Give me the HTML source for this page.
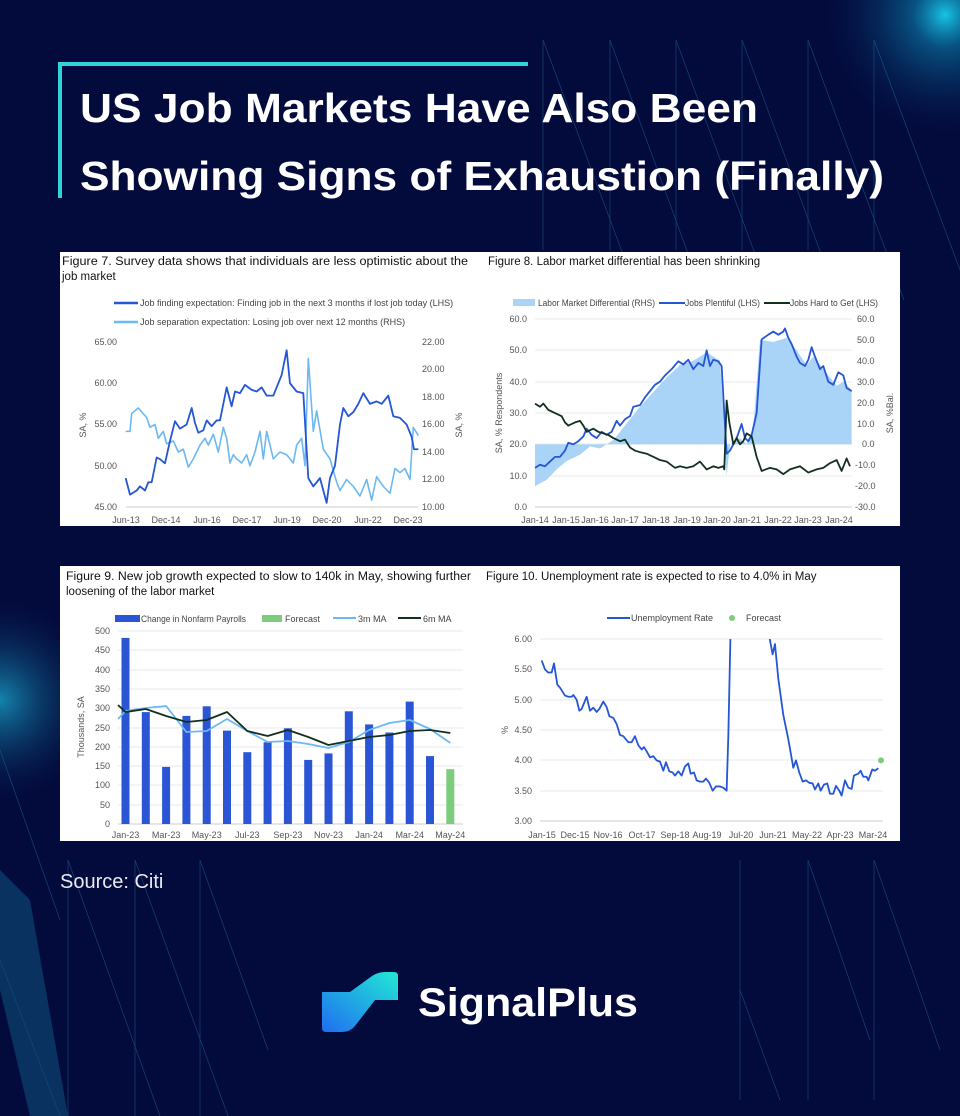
<!DOCTYPE html>
<html><head><meta charset="utf-8"><style>
html,body{margin:0;padding:0;background:#030a3c;}
svg{display:block;font-family:"Liberation Sans",sans-serif;}
.t{font-size:11.5px;fill:#111;}
.k{font-size:9px;fill:#555;}
.lg{font-size:9px;fill:#444;}
</style></head><body>
<svg width="960" height="1116" viewBox="0 0 960 1116" xmlns="http://www.w3.org/2000/svg">
<defs>
<radialGradient id="glow1" cx="945" cy="15" r="130" gradientUnits="userSpaceOnUse">
<stop offset="0" stop-color="#19c3e6"/><stop offset="0.25" stop-color="#0a6f9e" stop-opacity="0.7"/><stop offset="1" stop-color="#030a3c" stop-opacity="0"/></radialGradient>
<radialGradient id="glow2" cx="0" cy="700" r="110" gradientUnits="userSpaceOnUse">
<stop offset="0" stop-color="#1aa3c9" stop-opacity="0.8"/><stop offset="1" stop-color="#030a3c" stop-opacity="0"/></radialGradient>
<linearGradient id="logo" x1="0" y1="1" x2="1" y2="0"><stop offset="0" stop-color="#1f6ff0"/><stop offset="1" stop-color="#22e8d6"/></linearGradient>
<clipPath id="c10"><rect x="540" y="639" width="345" height="183"/></clipPath>
</defs>
<rect width="960" height="1116" fill="#030a3c"/>
<rect width="960" height="1116" fill="url(#glow1)"/>
<rect width="960" height="1116" fill="url(#glow2)"/>
<g stroke="#1a6f9a" stroke-width="0.7" opacity="0.6" fill="none">
<line x1="543" y1="40" x2="640" y2="300"/><line x1="610" y1="40" x2="705" y2="300"/>
<line x1="676" y1="40" x2="772" y2="300"/><line x1="742" y1="40" x2="838" y2="300"/>
<line x1="808" y1="40" x2="904" y2="300"/><line x1="874" y1="40" x2="960" y2="270"/>
<line x1="543" y1="40" x2="543" y2="250"/><line x1="610" y1="40" x2="610" y2="250"/><line x1="676" y1="40" x2="676" y2="250"/><line x1="742" y1="40" x2="742" y2="250"/><line x1="808" y1="40" x2="808" y2="250"/><line x1="874" y1="40" x2="874" y2="250"/>
<line x1="0" y1="750" x2="60" y2="920"/><line x1="0" y1="960" x2="60" y2="1116"/>
<line x1="68" y1="860" x2="68" y2="1116"/><line x1="135" y1="860" x2="135" y2="1116"/><line x1="200" y1="860" x2="200" y2="1116"/>
<line x1="68" y1="860" x2="160" y2="1116"/><line x1="135" y1="860" x2="228" y2="1116"/><line x1="200" y1="860" x2="268" y2="1050"/>
<line x1="740" y1="860" x2="740" y2="1100"/><line x1="808" y1="860" x2="808" y2="1100"/><line x1="874" y1="860" x2="874" y2="1100"/>
<line x1="740" y1="990" x2="780" y2="1100"/><line x1="808" y1="860" x2="870" y2="1040"/><line x1="874" y1="860" x2="940" y2="1050"/>
</g>
<polygon points="0,870 30,900 68,1116 30,1116 0,990" fill="#0e4d78" opacity="0.6"/>
<!-- title -->
<rect x="58" y="62" width="470" height="4" fill="#2fd3d8"/>
<rect x="58" y="62" width="4" height="136" fill="#2fd3d8"/>
<text x="80" y="122" font-size="41" font-weight="bold" fill="#fff" textLength="678" lengthAdjust="spacingAndGlyphs">US Job Markets Have Also Been</text>
<text x="80" y="190" font-size="41" font-weight="bold" fill="#fff" textLength="804" lengthAdjust="spacingAndGlyphs">Showing Signs of Exhaustion (Finally)</text>

<!-- panels -->
<rect x="60" y="252" width="840" height="274" fill="#fff"/>
<rect x="60" y="566" width="840" height="275" fill="#fff"/>

<!-- FIG 7 -->
<text class="t" x="62" y="265" textLength="406" lengthAdjust="spacingAndGlyphs">Figure 7. Survey data shows that individuals are less optimistic about the</text>
<text class="t" x="62" y="280">job market</text>
<line x1="114" y1="303" x2="138" y2="303" stroke="#2456d6" stroke-width="2.5"/>
<text class="lg" x="140" y="306">Job finding expectation: Finding job in the next 3 months if lost job today (LHS)</text>
<line x1="114" y1="322" x2="138" y2="322" stroke="#6cb8f2" stroke-width="2.5"/>
<text class="lg" x="140" y="325">Job separation expectation: Losing job over next 12 months (RHS)</text>
<g text-anchor="end">
<text x="117" y="345" class="k">65.00</text><text x="117" y="386" class="k">60.00</text><text x="117" y="427" class="k">55.00</text><text x="117" y="469" class="k">50.00</text><text x="117" y="510" class="k">45.00</text>
</g>
<g>
<text x="422" y="345" class="k">22.00</text><text x="422" y="372" class="k">20.00</text><text x="422" y="400" class="k">18.00</text><text x="422" y="427" class="k">16.00</text><text x="422" y="455" class="k">14.00</text><text x="422" y="482" class="k">12.00</text><text x="422" y="510" class="k">10.00</text>
</g>
<text class="k" transform="translate(86,425) rotate(-90)" text-anchor="middle">SA, %</text>
<text class="k" transform="translate(462,425) rotate(-90)" text-anchor="middle">SA, %</text>
<line x1="126" y1="507" x2="418" y2="507" stroke="#bbb" stroke-width="0.8"/>
<g text-anchor="middle">
<text x="126" y="523" class="k">Jun-13</text><text x="166" y="523" class="k">Dec-14</text><text x="207" y="523" class="k">Jun-16</text><text x="247" y="523" class="k">Dec-17</text><text x="287" y="523" class="k">Jun-19</text><text x="327" y="523" class="k">Dec-20</text><text x="368" y="523" class="k">Jun-22</text><text x="408" y="523" class="k">Dec-23</text>
</g>
<g transform="matrix(0.3333,0,0,-13.75,60,644.5)">
<polyline fill="none" stroke="#6cb8f2" stroke-width="1.6" vector-effect="non-scaling-stroke" stroke-linejoin="round" points="197,15.5 210,15.5 215,16.8 235,17.2 260,16.5 270,15.8 285,16 295,15 310,15.5 320,14.6 340,14.8 355,14.0 370,14.2 385,12.9 400,13.5 420,14.5 435,15.0 445,14.5 460,15.3 475,14.0 490,15.8 500,15.0 510,13.2 520,13.8 530,13.5 545,13.2 560,13.8 570,13.0 585,14 600,15.5 610,13.5 620,15.5 640,13.5 660,14.0 680,13.8 700,13.2 710,14.5 725,15 735,13 745,20.8 760,15.5 770,17 790,14.2 810,13.5 830,11.8 840,11.2 860,12.0 880,11.5 900,10.8 920,12.0 935,10.5 950,12.2 970,11.5 990,11.0 1005,12.8 1020,12.5 1035,12.8 1050,12.0 1060,15.8 1075,15.2"/>
</g>
<g transform="matrix(0.3333,0,0,-8.25,60,878.25)">
<polyline fill="none" stroke="#2456d6" stroke-width="1.8" vector-effect="non-scaling-stroke" stroke-linejoin="round" points="197,48.5 210,46.5 230,47 240,47.5 255,47 265,48 275,48 290,51 300,50.8 315,50.3 330,53 345,55.4 360,54.5 380,55 395,57 405,55.2 415,54 430,54.3 440,55.5 455,54.8 470,55.5 480,55.5 500,59.5 515,57.2 525,59 540,58.8 555,59.8 575,59.2 590,59 605,59.5 620,58.5 640,58.5 665,61 680,64 690,60 710,59 730,58.8 745,48.5 760,47.5 780,48.5 790,47 800,45.5 810,48.5 825,50 840,55 850,57 865,56 880,56.5 895,57.5 910,58.8 930,57.5 950,57.8 965,57.5 985,58.5 1000,56 1020,55.8 1040,55 1055,53.5 1062,52 1075,52"/>
</g>

<!-- FIG 8 -->
<text class="t" x="488" y="265">Figure 8. Labor market differential has been shrinking</text>
<rect x="513" y="299" width="22" height="7" fill="#a9d3f7"/>
<text class="lg" x="538" y="306" textLength="117" lengthAdjust="spacingAndGlyphs">Labor Market Differential (RHS)</text>
<line x1="659" y1="303" x2="685" y2="303" stroke="#2456d6" stroke-width="2"/>
<text class="lg" x="685" y="306" textLength="75" lengthAdjust="spacingAndGlyphs">Jobs Plentiful (LHS)</text>
<line x1="764" y1="303" x2="790" y2="303" stroke="#13301f" stroke-width="2"/>
<text class="lg" x="790" y="306" textLength="88" lengthAdjust="spacingAndGlyphs">Jobs Hard to Get (LHS)</text>
<g stroke="#e2e2e2" stroke-width="0.7">
<line x1="535" y1="319" x2="852" y2="319"/><line x1="535" y1="350" x2="852" y2="350"/><line x1="535" y1="382" x2="852" y2="382"/><line x1="535" y1="413" x2="852" y2="413"/><line x1="535" y1="444" x2="852" y2="444"/><line x1="535" y1="476" x2="852" y2="476"/>
</g>
<line x1="535" y1="507" x2="852" y2="507" stroke="#bbb" stroke-width="0.8"/>
<g text-anchor="end">
<text x="527" y="322" class="k">60.0</text><text x="527" y="353" class="k">50.0</text><text x="527" y="385" class="k">40.0</text><text x="527" y="416" class="k">30.0</text><text x="527" y="447" class="k">20.0</text><text x="527" y="479" class="k">10.0</text><text x="527" y="510" class="k">0.0</text>
</g>
<g>
<text x="857" y="322" class="k">60.0</text><text x="857" y="343" class="k">50.0</text><text x="857" y="364" class="k">40.0</text><text x="857" y="385" class="k">30.0</text><text x="857" y="406" class="k">20.0</text><text x="857" y="427" class="k">10.0</text><text x="862" y="447" class="k">0.0</text><text x="855" y="468" class="k">-10.0</text><text x="855" y="489" class="k">-20.0</text><text x="855" y="510" class="k">-30.0</text>
</g>
<text class="k" transform="translate(502,413) rotate(-90)" text-anchor="middle">SA, % Respondents</text>
<text class="k" transform="translate(893,413) rotate(-90)" text-anchor="middle">SA, %Bal.</text>
<g text-anchor="middle">
<text x="535" y="523" class="k">Jan-14</text><text x="566" y="523" class="k">Jan-15</text><text x="595" y="523" class="k">Jan-16</text><text x="625" y="523" class="k">Jan-17</text><text x="656" y="523" class="k">Jan-18</text><text x="687" y="523" class="k">Jan-19</text><text x="717" y="523" class="k">Jan-20</text><text x="747" y="523" class="k">Jan-21</text><text x="778" y="523" class="k">Jan-22</text><text x="808" y="523" class="k">Jan-23</text><text x="839" y="523" class="k">Jan-24</text>
</g>
<g transform="matrix(0.3333,0,0,-2.089,480,444.33)">
<polygon fill="#a9d3f7" points="165,0 165,-20 200,-17 230,-12 260,-8 300,-5 330,-1 360,-2 400,2 440,10 480,18 520,25 560,32 600,38 640,40 680,44 720,40 730,15 740,-15 750,0 780,3 800,0 820,8 840,50 880,49 920,51 950,45 980,38 1000,42 1040,34 1070,28 1090,30 1115,26 1115,0"/>
</g>
<g transform="matrix(0.3333,0,0,-3.133,480,507)">
<polyline fill="none" stroke="#2456d6" stroke-width="1.8" vector-effect="non-scaling-stroke" stroke-linejoin="round" points="165,12.5 180,13.5 195,13 210,14.5 225,16 240,16 255,18 265,20.5 280,20 295,21 310,22.5 320,25 335,23 350,22 365,24 380,23 395,24 410,27.5 420,26 435,28 450,29 460,32 480,32.5 495,35 510,37 525,39 540,40 555,42 575,44 595,46.5 610,45.5 625,47 640,44 655,46 670,45 680,50 690,45 700,47 715,46.5 725,45 735,26 740,17 750,18 760,20 770,22 785,26.5 795,22 805,21 815,23 830,30 845,53.5 865,55 880,56 895,55 910,56 915,57 925,54 935,52 950,48 960,46 975,45 985,47 995,51 1005,48 1020,44 1030,45 1045,40 1060,39 1075,43 1090,42 1100,38 1115,37"/>
<polyline fill="none" stroke="#13301f" stroke-width="1.8" vector-effect="non-scaling-stroke" stroke-linejoin="round" points="165,33 180,32 190,33 205,31 225,30 245,29 255,27 265,26 285,27 300,27.5 310,26 320,24 340,25 355,24 370,23.5 385,23 400,22 420,21 435,21.5 450,19 465,18 480,17.5 500,17 520,16 540,15 560,14.5 585,12.5 600,13 620,12.5 640,13 660,14.5 680,12 700,13 715,12.5 730,13 733,12 740,34 748,27 760,20 770,22 780,20 790,21 800,23.5 815,22.5 830,16 845,11.5 870,12.5 890,12 910,10.5 930,12 960,13 985,11 1010,12 1030,12.5 1050,14 1070,15 1085,11.5 1100,15.5 1110,13"/>
</g>

<!-- FIG 9 -->
<text class="t" x="66" y="580" textLength="405" lengthAdjust="spacingAndGlyphs">Figure 9. New job growth expected to slow to 140k in May, showing further</text>
<text class="t" x="66" y="595">loosening of the labor market</text>
<rect x="115" y="615" width="25" height="7" fill="#2a56d6"/>
<text class="lg" x="141" y="622" textLength="105" lengthAdjust="spacingAndGlyphs">Change in Nonfarm Payrolls</text>
<rect x="262" y="615" width="20" height="7" fill="#7dcc7d"/>
<text class="lg" x="285" y="622">Forecast</text>
<line x1="333" y1="618" x2="356" y2="618" stroke="#6cb8f2" stroke-width="2"/>
<text class="lg" x="358" y="622">3m MA</text>
<line x1="398" y1="618" x2="421" y2="618" stroke="#13301f" stroke-width="2"/>
<text class="lg" x="423" y="622">6m MA</text>
<g stroke="#e2e2e2" stroke-width="0.7">
<line x1="118" y1="631" x2="463" y2="631"/><line x1="118" y1="650" x2="463" y2="650"/><line x1="118" y1="670" x2="463" y2="670"/><line x1="118" y1="689" x2="463" y2="689"/><line x1="118" y1="708" x2="463" y2="708"/><line x1="118" y1="728" x2="463" y2="728"/><line x1="118" y1="747" x2="463" y2="747"/><line x1="118" y1="766" x2="463" y2="766"/><line x1="118" y1="785" x2="463" y2="785"/><line x1="118" y1="805" x2="463" y2="805"/>
</g>
<line x1="118" y1="824" x2="463" y2="824" stroke="#bbb" stroke-width="0.8"/>
<g text-anchor="end">
<text x="110" y="634" class="k">500</text><text x="110" y="653" class="k">450</text><text x="110" y="673" class="k">400</text><text x="110" y="692" class="k">350</text><text x="110" y="711" class="k">300</text><text x="110" y="731" class="k">250</text><text x="110" y="750" class="k">200</text><text x="110" y="769" class="k">150</text><text x="110" y="788" class="k">100</text><text x="110" y="808" class="k">50</text><text x="110" y="827" class="k">0</text>
</g>
<text class="k" transform="translate(84,727) rotate(-90)" text-anchor="middle">Thousands, SA</text>
<g fill="#2a56d6">
<rect x="121.5" y="637.9" width="8" height="186.1"/><rect x="141.8" y="712.1" width="8" height="111.9"/><rect x="162.1" y="766.9" width="8" height="57.1"/><rect x="182.4" y="715.9" width="8" height="108.1"/><rect x="202.7" y="706.3" width="8" height="117.7"/><rect x="223" y="730.6" width="8" height="93.4"/><rect x="243.3" y="752.2" width="8" height="71.8"/><rect x="263.6" y="742.2" width="8" height="81.8"/><rect x="283.9" y="728.3" width="8" height="95.7"/><rect x="304.2" y="759.9" width="8" height="64.1"/><rect x="324.5" y="753.4" width="8" height="70.6"/><rect x="344.8" y="711.3" width="8" height="112.7"/><rect x="365.1" y="724.4" width="8" height="99.6"/><rect x="385.4" y="732.5" width="8" height="91.5"/><rect x="405.7" y="701.6" width="8" height="122.4"/><rect x="426" y="756.1" width="8" height="67.9"/>
</g>
<rect x="446.3" y="769.2" width="8" height="54.8" fill="#7dcc7d"/>
<polyline fill="none" stroke="#6cb8f2" stroke-width="1.8" stroke-linejoin="round" points="118,719 125.5,711 145.8,708 166.1,706 186.4,732 206.7,731 227,719 247.3,731 267.6,742 287.9,741 308.2,744 328.5,748 348.8,742 369.1,730 389.4,723 409.7,720 430,729 450.3,743"/>
<polyline fill="none" stroke="#13301f" stroke-width="1.8" stroke-linejoin="round" points="118,705 125.5,712 145.8,709 166.1,716 186.4,722 206.7,720 227,712 247.3,731 267.6,736 287.9,730 308.2,737 328.5,745 348.8,741 369.1,737 389.4,735 409.7,731 430,730 450.3,733"/>
<g text-anchor="middle">
<text x="125.5" y="838" class="k">Jan-23</text><text x="166.1" y="838" class="k">Mar-23</text><text x="206.7" y="838" class="k">May-23</text><text x="247.3" y="838" class="k">Jul-23</text><text x="287.9" y="838" class="k">Sep-23</text><text x="328.5" y="838" class="k">Nov-23</text><text x="369.1" y="838" class="k">Jan-24</text><text x="409.7" y="838" class="k">Mar-24</text><text x="450.3" y="838" class="k">May-24</text>
</g>

<!-- FIG 10 -->
<text class="t" x="486" y="580">Figure 10. Unemployment rate is expected to rise to 4.0% in May</text>
<line x1="607" y1="618" x2="630" y2="618" stroke="#2456d6" stroke-width="2"/>
<text class="lg" x="631" y="621">Unemployment Rate</text>
<circle cx="732" cy="618" r="3" fill="#7dcc7d"/>
<text class="lg" x="746" y="621">Forecast</text>
<g stroke="#e2e2e2" stroke-width="0.7">
<line x1="540" y1="639" x2="883" y2="639"/><line x1="540" y1="669" x2="883" y2="669"/><line x1="540" y1="700" x2="883" y2="700"/><line x1="540" y1="730" x2="883" y2="730"/><line x1="540" y1="760" x2="883" y2="760"/><line x1="540" y1="791" x2="883" y2="791"/>
</g>
<line x1="540" y1="821" x2="883" y2="821" stroke="#bbb" stroke-width="0.8"/>
<g text-anchor="end">
<text x="532" y="642" class="k">6.00</text><text x="532" y="672" class="k">5.50</text><text x="532" y="703" class="k">5.00</text><text x="532" y="733" class="k">4.50</text><text x="532" y="763" class="k">4.00</text><text x="532" y="794" class="k">3.50</text><text x="532" y="824" class="k">3.00</text>
</g>
<text class="k" transform="translate(508,730) rotate(-90)" text-anchor="middle">%</text>
<g text-anchor="middle">
<text x="542" y="838" class="k">Jan-15</text><text x="575" y="838" class="k">Dec-15</text><text x="608" y="838" class="k">Nov-16</text><text x="642" y="838" class="k">Oct-17</text><text x="675" y="838" class="k">Sep-18</text><text x="707" y="838" class="k">Aug-19</text><text x="741" y="838" class="k">Jul-20</text><text x="773" y="838" class="k">Jun-21</text><text x="807" y="838" class="k">May-22</text><text x="840" y="838" class="k">Apr-23</text><text x="873" y="838" class="k">Mar-24</text>
</g>
<g clip-path="url(#c10)">
<g transform="matrix(0.3333,0,0,-60.6,480,1002.8)">
<polyline fill="none" stroke="#2456d6" stroke-width="1.8" vector-effect="non-scaling-stroke" stroke-linejoin="round" points="185,5.65 195,5.5 205,5.45 215,5.45 222,5.6 232,5.25 240,5.2 255,5.07 265,5.05 275,5.05 280,5.08 290,5.0 298,4.82 305,4.85 320,5.05 330,4.82 340,4.87 350,4.8 358,4.85 370,4.97 380,4.88 388,4.73 400,4.7 410,4.6 420,4.42 430,4.4 445,4.3 455,4.3 465,4.4 475,4.25 485,4.18 492,4.22 500,4.15 510,4.05 520,4.07 530,4.0 540,3.98 550,3.83 558,3.97 568,3.82 578,3.8 585,3.75 595,3.82 605,3.75 615,3.9 625,3.95 632,3.78 642,3.8 650,3.67 660,3.65 670,3.65 678,3.7 688,3.63 698,3.5 708,3.57 720,3.57 730,3.55 740,3.5 745,4.4 752,6.2"/>
<polyline fill="none" stroke="#2456d6" stroke-width="1.8" vector-effect="non-scaling-stroke" stroke-linejoin="round" points="866,6.1 878,5.75 885,5.92 895,5.35 910,4.75 925,4.35 940,3.88 948,4.0 958,3.8 968,3.65 978,3.67 988,3.63 998,3.62 1005,3.52 1015,3.62 1022,3.5 1032,3.6 1042,3.62 1050,3.45 1060,3.45 1068,3.58 1078,3.5 1085,3.42 1095,3.67 1105,3.55 1115,3.53 1122,3.75 1135,3.78 1142,3.83 1150,3.73 1160,3.73 1165,3.67 1177,3.85 1185,3.83 1195,3.87"/>
</g>
</g>
<circle cx="881" cy="760.4" r="3" fill="#7dcc7d"/>

<!-- footer -->
<text x="60" y="888" font-size="20" fill="#e8ecf5">Source: Citi</text>
<path d="M322,992 L350,992 L372,976 Q378,972 386,972 L394,972 Q398,972 398,976 L398,1000 L375,1000 L355,1026 Q350,1032 342,1032 L326,1032 Q322,1032 322,1028 Z" fill="url(#logo)"/>
<text x="418" y="1016" font-size="40" font-weight="bold" fill="#fff" textLength="220" lengthAdjust="spacingAndGlyphs">SignalPlus</text>
</svg>
</body></html>
